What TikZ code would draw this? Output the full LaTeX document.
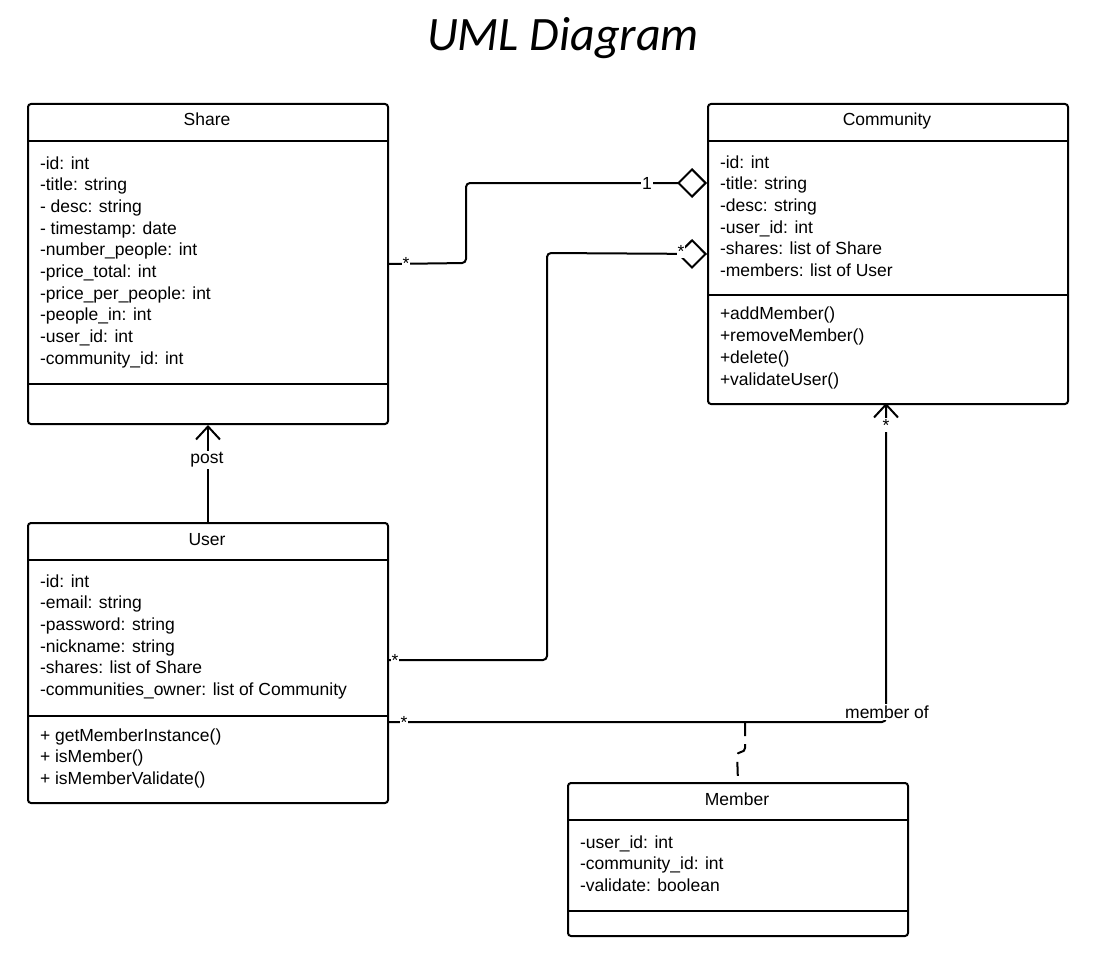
\documentclass[tikz,border=0pt]{standalone}
\usepackage{fontspec}
\setmainfont{Liberation Sans}
\newfontfamily\titlefont{Carlito}
\usetikzlibrary{arrows.meta, positioning}

\begin{document}
\begin{tikzpicture}
  [
    x=1pt, y=-1pt,
    line width=2pt,
    font=\fontsize{17.5}{21.7}\selectfont,
    classbox/.style={draw, rounded corners=3pt, anchor=north west, inner sep=0pt, minimum width=360pt},
    classname/.style={anchor=base},
    members/.style={anchor=base west, align=left, inner sep=0pt},
    link/.style={rounded corners=4pt},
    mult/.style={fill=white, inner sep=1pt},
    agg/.style={-{Diamond[open, length=30pt, width=30pt]}},
    nav/.style={-{Straight Barb[length=13pt, width=24pt]}}
  ]
  \useasboundingbox (0,0) rectangle (1095,955);

  % title
  \node[anchor=base] (title) at (563,51) {\titlefont\itshape\fontsize{48}{50}\selectfont UML Diagram};

  % Share
  \node[classbox, minimum height=320pt] (share) at (27,103) {};
  \node[classname] (shareName) at (207,126) {Share};
  \draw (27,141) -- (387,141);
  \draw (27,384) -- (387,384);
  \node[members] (shareAttr) at (39,364.3) {-id: int\\-title: string\\- desc: string\\- timestamp: date\\-number\_people: int\\-price\_total: int\\-price\_per\_people: int\\-people\_in: int\\-user\_id: int\\-community\_id: int};

  % Community
  \node[classbox, minimum height=300pt] (community) at (707,103) {};
  \node[classname] (communityName) at (887,126) {Community};
  \draw (707,141) -- (1067,141);
  \draw (707,295) -- (1067,295);
  \node[members] (communityAttr) at (719,276.5) {-id: int\\-title: string\\-desc: string\\-user\_id: int\\-shares: list of Share\\-members: list of User};
  \node[members] (communityOps) at (719,385) {+addMember()\\+removeMember()\\+delete()\\+validateUser()};

  % User
  \node[classbox, minimum height=280pt] (user) at (27,522) {};
  \node[classname] (userName) at (207,545) {User};
  \draw (27,560) -- (387,560);
  \draw (27,716) -- (387,716);
  \node[members] (userAttr) at (39,695.5) {-id: int\\-email: string\\-password: string\\-nickname: string\\-shares: list of Share\\-communities\_owner: list of Community};
  \node[members] (userOps) at (39,784.4) {+ getMemberInstance()\\+ isMember()\\+ isMemberValidate()};

  % Member
  \node[classbox, minimum width=340pt, minimum height=153pt] (member) at (567,782) {};
  \node[classname] (memberName) at (737,805) {Member};
  \draw (567,820) -- (907,820);
  \draw (567,911) -- (907,911);
  \node[members] (memberAttr) at (579,891.4) {-user\_id: int\\-community\_id: int\\-validate: boolean};

  % connectors
  \draw[link, agg] (share.east) -- (466,263) -- (466,183) -- (707,183);
  \node[mult] at (406,263) {*};
  \node[mult] at (647,183) {1};

  \draw[link, agg] (387,660) -- (547,660) -- (547,253) -- (community.west);
  \node[mult] at (395,660) {*};
  \node[mult] at (681,251) {*};

  \draw[nav] (user.north) -- (share.south);
  \node[fill=white, inner sep=2pt] (post) at (207,460) {post};

  \draw[link, nav] (387,722) -| (886,403);
  \node[mult] at (404,722) {*};
  \node[mult] at (886,425) {*};
  \node[fill=white, inner sep=2pt] (memberOf) at (887,712) {member of};

  \coordinate (assoc) at (745,722);
  \draw[link, dash pattern=on 14pt off 8pt] (assoc) -- (745,752) -- (737,752) -- (member.north);
\end{tikzpicture}
\end{document}
